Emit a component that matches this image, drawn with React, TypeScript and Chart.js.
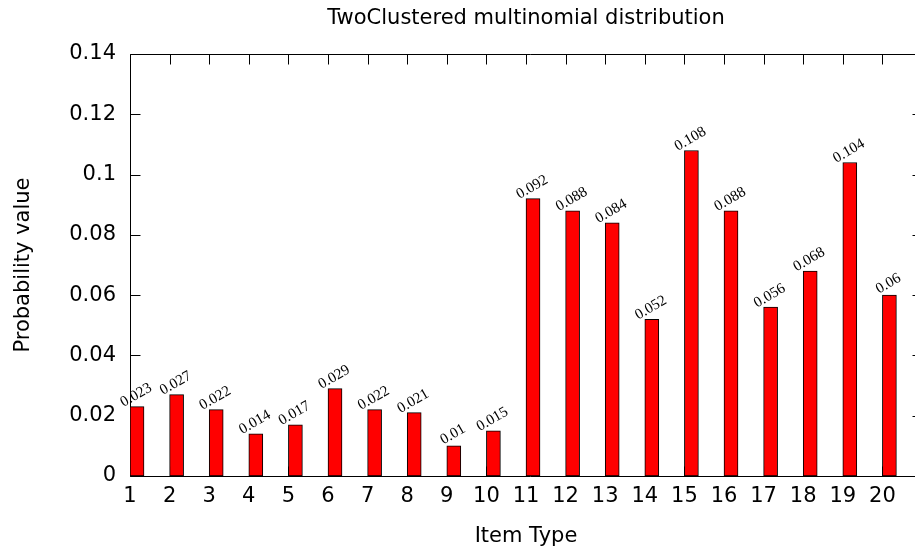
import React, { useEffect, useRef } from "react";
import { Chart, registerables } from "chart.js";

Chart.register(...registerables);

const TITLE = "TwoClustered multinomial distribution";
const X_TITLE = "Item Type";
const Y_TITLE = "Probability value";

const items = [1, 2, 3, 4, 5, 6, 7, 8, 9, 10, 11, 12, 13, 14, 15, 16, 17, 18, 19, 20];
const probabilities = [
  0.023, 0.027, 0.022, 0.014, 0.017, 0.029, 0.022, 0.021, 0.01, 0.015,
  0.092, 0.088, 0.084, 0.052, 0.108, 0.088, 0.056, 0.068, 0.104, 0.06,
];
const barLabels = [
  "0.023", "0.027", "0.022", "0.014", "0.017", "0.029", "0.022", "0.021", "0.01", "0.015",
  "0.092", "0.088", "0.084", "0.052", "0.108", "0.088", "0.056", "0.068", "0.104", "0.06",
];
const xTickLabels = items.map(String);
const yTickValues = [0, 0.02, 0.04, 0.06, 0.08, 0.1, 0.12, 0.14];
const yTickLabels = ["0", "0.02", "0.04", "0.06", "0.08", "0.1", "0.12", "0.14"];

const X_RANGE_START = 1;
const X_RANGE_END = 21;
// bars sit to the right of their tick (gnuplot style): shift of half a bar in axis units
const BAR_SHIFT = 0.177;

const SANS = "'DejaVu Sans', sans-serif";

const framePlugin = {
  id: "gnuplotFrame",
  beforeDatasetsDraw(chart: any) {
    const { ctx, chartArea, scales } = chart;
    const { left, right, top, bottom } = chartArea;
    const W = chart.width;
    const TL = 10;
    ctx.save();
    ctx.strokeStyle = "#000";
    ctx.lineWidth = 1;
    ctx.beginPath();
    const L = Math.round(left) + 0.5;
    const T = Math.round(top) + 0.5;
    const B = Math.round(bottom) + 0.5;
    const R = Math.round(right) + 0.5;
    ctx.moveTo(L, T);
    ctx.lineTo(L, B);
    ctx.moveTo(L, B);
    ctx.lineTo(W, B);
    ctx.moveTo(L, T);
    ctx.lineTo(W, T);
    ctx.moveTo(R, T);
    ctx.lineTo(R, B);
    // y ticks (inward, both sides)
    scales.y.ticks.forEach((t: any) => {
      const py = Math.round(scales.y.getPixelForValue(t.value)) + 0.5;
      ctx.moveTo(L, py);
      ctx.lineTo(L + TL, py);
      ctx.moveTo(R, py);
      ctx.lineTo(R - TL, py);
    });
    // x ticks (inward, top and bottom)
    scales.x.ticks.forEach((t: any) => {
      const px = Math.round(scales.x.getPixelForValue(t.value)) + 0.5;
      ctx.moveTo(px, T);
      ctx.lineTo(px, T + TL);
      ctx.moveTo(px, B);
      ctx.lineTo(px, B - TL);
    });
    ctx.stroke();
    ctx.restore();
  },
  afterDatasetsDraw(chart: any) {
    const { ctx } = chart;
    const meta = chart.getDatasetMeta(0);
    ctx.save();
    ctx.font = "15px 'Liberation Serif', 'DejaVu Serif', serif";
    ctx.fillStyle = "#000";
    ctx.textAlign = "center";
    ctx.textBaseline = "alphabetic";
    meta.data.forEach((bar: any, i: number) => {
      ctx.save();
      ctx.translate(bar.x + 1, bar.y - 8);
      ctx.rotate(-Math.PI / 6);
      ctx.fillText(barLabels[i], 0, 0);
      ctx.restore();
    });
    ctx.restore();
  },
};

export default function App() {
  const canvasRef = useRef<HTMLCanvasElement | null>(null);

  useEffect(() => {
    if (!canvasRef.current) return;
    const chart = new Chart(canvasRef.current, {
      type: "bar",
      data: {
        datasets: [
          {
            data: items.map((x, i) => ({ x, y: probabilities[i] })),
            backgroundColor: "#ff0000",
            borderColor: "#000000",
            borderWidth: 1,
            borderSkipped: false,
            barThickness: 14,
          },
        ],
      },
      options: {
        responsive: false,
        animation: false,
        devicePixelRatio: 1,
        layout: { padding: { left: 0, right: 8, top: 0, bottom: 0 } },
        plugins: {
          legend: { display: false },
          tooltip: { enabled: false },
          title: {
            display: true,
            text: TITLE,
            fullSize: false,
            color: "#000",
            font: { family: SANS, size: 21, weight: "normal" },
            padding: { top: 6.4, bottom: 22.4 },
          },
        },
        scales: {
          x: {
            type: "linear",
            offset: false,
            min: X_RANGE_START - BAR_SHIFT,
            max: X_RANGE_END - BAR_SHIFT,
            grid: { display: false, drawTicks: false, offset: false },
            border: { display: false },
            afterBuildTicks(scale: any) {
              scale.ticks = items.map((v) => ({ value: v - BAR_SHIFT }));
            },
            afterFit(scale: any) {
              scale.height = 78;
            },
            ticks: {
              autoSkip: false,
              maxRotation: 0,
              padding: 8,
              color: "#000",
              font: { family: SANS, size: 21 },
              callback: (_v: any, i: number) => xTickLabels[i],
            },
            title: {
              display: true,
              text: X_TITLE,
              color: "#000",
              font: { family: SANS, size: 21 },
              padding: { top: 0, bottom: 5 },
            },
          },
          y: {
            type: "linear",
            min: 0,
            max: 0.14,
            grid: { display: false, drawTicks: false },
            border: { display: false },
            afterBuildTicks(scale: any) {
              scale.ticks = yTickValues.map((v) => ({ value: v }));
            },
            afterFit(scale: any) {
              scale.width = 130;
            },
            ticks: {
              padding: 14,
              color: "#000",
              font: { family: SANS, size: 21 },
              callback: (_v: any, i: number) => yTickLabels[i],
            },
            title: {
              display: true,
              text: Y_TITLE,
              color: "#000",
              font: { family: SANS, size: 21 },
              padding: { top: 11, bottom: 0 },
            },
          },
        },
      },
      plugins: [framePlugin],
    });
    return () => chart.destroy();
  }, []);

  return (
    <div
      style={{
        position: "fixed",
        left: 0,
        top: 0,
        width: 915,
        height: 554,
        overflow: "hidden",
        background: "#fff",
      }}
    >
      <canvas ref={canvasRef} width={930} height={554} style={{ display: "block" }} />
    </div>
  );
}
